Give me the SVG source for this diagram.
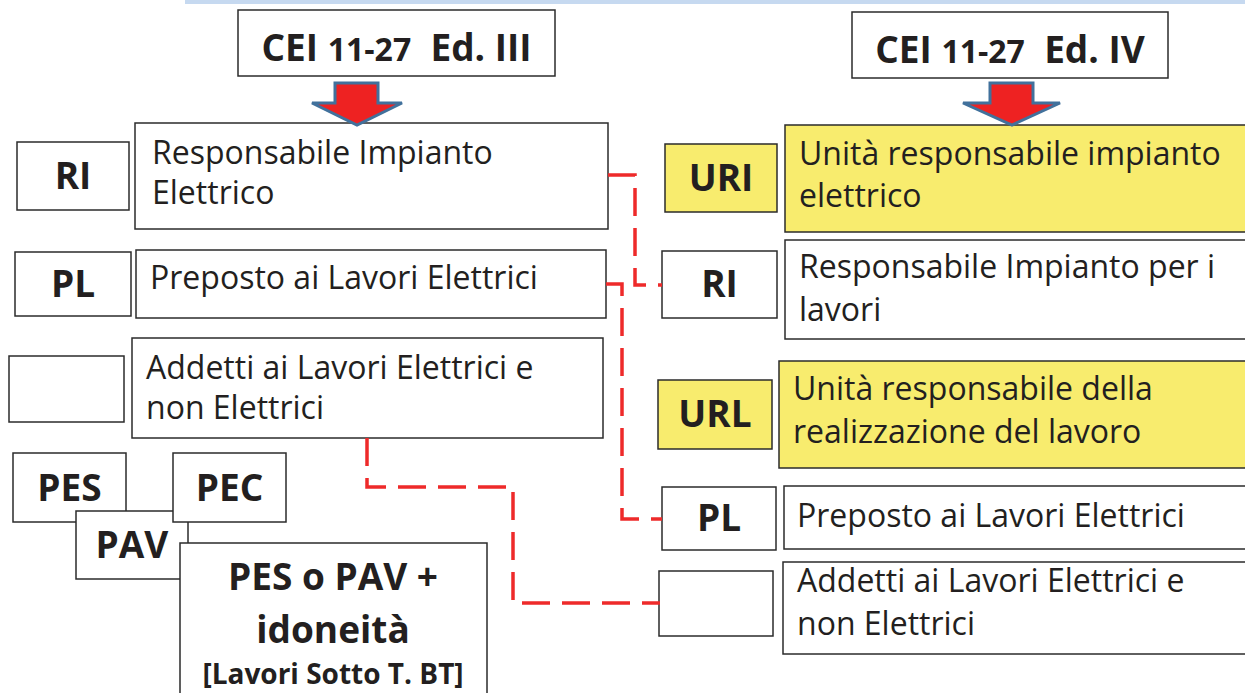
<svg xmlns="http://www.w3.org/2000/svg" width="1245" height="693" viewBox="0 0 1245 693">
<style>
.bx{fill:#ffffff;stroke:#2b2b2b;stroke-width:1.5}
.yb{fill:#F8EC6E;stroke:#2b2b2b;stroke-width:1.5}
.t{font-family:"Open Sans","Noto Sans",sans-serif;font-size:32px;fill:#231f20}
.b{font-family:"Open Sans","Noto Sans",sans-serif;font-weight:bold;font-size:37px;fill:#231f20;text-anchor:middle}
.s{font-size:28px}
.h{font-family:"Open Sans","Noto Sans",sans-serif;font-weight:bold;font-size:37px;fill:#231f20;text-anchor:middle}
.n{font-size:32px}
.c{fill:none;stroke:#EE2A2A;stroke-width:3.5;stroke-dasharray:28 12}
.ar{fill:#EE2222;stroke:#41719C;stroke-width:3;stroke-linejoin:miter}
</style>
<rect x="185" y="0" width="1060" height="4" fill="#C6D9F0"/>
<g id="hdr-left"><rect class="bx" x="238" y="10" width="317" height="66"/><text class="h" x="396.5" y="61" xml:space="preserve">CEI <tspan class="n">11-27</tspan>  Ed. III</text></g>
<g id="hdr-right"><rect class="bx" x="852" y="12" width="316" height="66"/><text class="h" x="1010" y="63" xml:space="preserve">CEI <tspan class="n">11-27</tspan>  Ed. IV</text></g>
<g id="l-ri"><rect class="bx" x="17" y="142" width="112" height="68"/><text class="b" x="73" y="189">RI</text></g>
<g id="l-ri-desc"><rect class="bx" x="135" y="123" width="473" height="106"/><text class="t" x="152" y="164">Responsabile Impianto</text><text class="t" x="152" y="204">Elettrico</text></g>
<g id="l-pl"><rect class="bx" x="15" y="252" width="116" height="64"/><text class="b" x="73" y="297">PL</text></g>
<g id="l-pl-desc"><rect class="bx" x="136" y="250" width="470" height="68"/><text class="t" x="150" y="289">Preposto ai Lavori Elettrici</text></g>
<g id="l-empty"><rect class="bx" x="9" y="356" width="115" height="66"/></g>
<g id="l-add-desc"><rect class="bx" x="132" y="338" width="471" height="100"/><text class="t" x="146" y="379">Addetti ai Lavori Elettrici e</text><text class="t" x="146" y="419">non Elettrici</text></g>
<g id="l-pes"><rect class="bx" x="13" y="453" width="113" height="69"/><text class="b" x="69.5" y="501">PES</text></g>
<g id="l-pav"><rect class="bx" x="76" y="511" width="112" height="68"/><text class="b" x="132" y="558">PAV</text></g>
<g id="l-pec"><rect class="bx" x="173" y="453" width="113" height="69"/><text class="b" x="229.5" y="501">PEC</text></g>
<g id="l-pespav"><rect class="bx" x="180" y="543" width="307" height="160"/><text class="b" x="333" y="590">PES o PAV +</text><text class="b" x="333" y="643">idoneità</text><text class="b s" x="333" y="684">[Lavori Sotto T. BT]</text></g>
<g id="r-uri"><rect class="yb" x="665" y="144" width="112" height="68"/><text class="b" x="721" y="191">URI</text></g>
<g id="r-uri-desc"><rect class="yb" x="785" y="125" width="470" height="107"/><text class="t" x="799" y="165">Unità responsabile impianto</text><text class="t" x="799" y="207">elettrico</text></g>
<g id="r-ri"><rect class="bx" x="662" y="251" width="115" height="67"/><text class="b" x="719.5" y="297">RI</text></g>
<g id="r-ri-desc"><rect class="bx" x="785" y="240" width="470" height="99"/><text class="t" x="799" y="278">Responsabile Impianto per i</text><text class="t" x="799" y="321">lavori</text></g>
<g id="r-url"><rect class="yb" x="658" y="380" width="114" height="69"/><text class="b" x="715" y="427">URL</text></g>
<g id="r-url-desc"><rect class="yb" x="779" y="361" width="476" height="107"/><text class="t" x="793" y="400">Unità responsabile della</text><text class="t" x="793" y="443">realizzazione del lavoro</text></g>
<g id="r-pl"><rect class="bx" x="662" y="487" width="114" height="63"/><text class="b" x="719" y="531">PL</text></g>
<g id="r-pl-desc"><rect class="bx" x="784" y="486" width="471" height="63"/><text class="t" x="797" y="527">Preposto ai Lavori Elettrici</text></g>
<g id="r-empty"><rect class="bx" x="659" y="571" width="114" height="65"/></g>
<g id="r-add-desc"><rect class="bx" x="783" y="562" width="472" height="92"/><text class="t" x="797" y="592">Addetti ai Lavori Elettrici e</text><text class="t" x="797" y="635">non Elettrici</text></g>
<g id="connectors">
<path class="c" d="M608,175 H635 V285 H662"/>
<path class="c" d="M606,284 H622 V519 H662"/>
<path class="c" d="M367,438 V487 H513 V603 H660"/>
</g>
<g id="arrows">
<polygon class="ar" points="335,83 378,83 378,103 402,103 357,125 312,103 335,103"/>
<polygon class="ar" points="990,83 1033,83 1033,103 1060,103 1012,125 963,103 990,103"/>
</g>
</svg>
